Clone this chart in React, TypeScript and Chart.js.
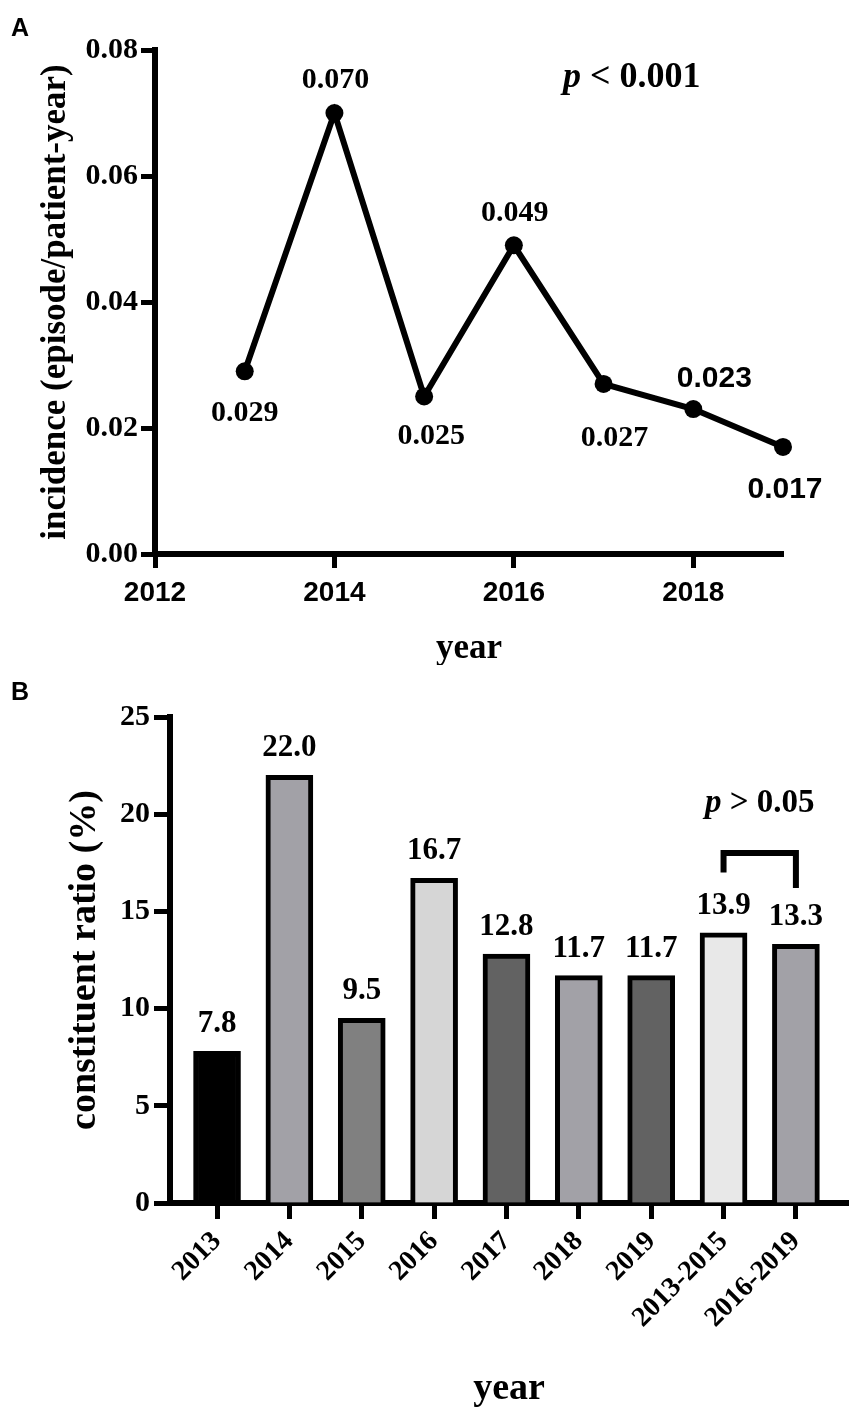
import { useEffect, useRef } from "react";
import { Chart, registerables } from "chart.js";

Chart.register(...registerables);

const SERIF = "'Liberation Serif', 'Times New Roman', serif";
const SANS = "'Liberation Sans', Arial, sans-serif";

// panel A: incidence per year
const incidenceYears = [2013, 2014, 2015, 2016, 2017, 2018, 2019];
const incidenceValues = [0.029, 0.07, 0.025, 0.049, 0.027, 0.023, 0.017];
const incidenceLabels = ["0.029", "0.070", "0.025", "0.049", "0.027", "0.023", "0.017"];
const yearTicks = [2012, 2014, 2016, 2018];

// panel B: constituent ratio
const ratioCategories = ["2013", "2014", "2015", "2016", "2017", "2018", "2019", "2013-2015", "2016-2019"];
const ratioValues = [7.8, 22.0, 9.5, 16.7, 12.8, 11.7, 11.7, 13.9, 13.3];
const ratioLabels = ["7.8", "22.0", "9.5", "16.7", "12.8", "11.7", "11.7", "13.9", "13.3"];
const ratioFills = ["#000000", "#a2a1a7", "#808080", "#d6d6d6", "#626262", "#a2a1a7", "#626262", "#e8e8e8", "#a2a1a7"];

// where each point label sits relative to its point (dx, dy, sans?)
const pointLabelPlacement: [number, number, boolean][] = [
  [0, 42, false],
  [1, -33, false],
  [7, 40, false],
  [1, -32, false],
  [11, 54, false],
  [21, -30, true],
  [2, 43, true],
];

const drawP = (ctx: CanvasRenderingContext2D, x: number, y: number, rest: string, size: number) => {
  ctx.textAlign = "left";
  ctx.textBaseline = "middle";
  ctx.font = `italic bold ${size}px ${SERIF}`;
  ctx.fillText("p", x, y);
  const w = ctx.measureText("p").width;
  ctx.font = `bold ${size}px ${SERIF}`;
  ctx.fillText(rest, x + w, y);
};

const textA = {
  id: "textA",
  afterDraw(chart: any) {
    const { ctx, chartArea } = chart;
    ctx.save();
    ctx.fillStyle = "#000";

    ctx.font = `bold 25px ${SANS}`;
    ctx.textAlign = "left";
    ctx.textBaseline = "middle";
    ctx.fillText("A", 11, 29);

    ctx.font = `bold 35px ${SERIF}`;
    ctx.textAlign = "center";
    ctx.textBaseline = "alphabetic";
    ctx.fillText("year", (chartArea.left + chartArea.right) / 2, chartArea.bottom + 104);

    ctx.save();
    ctx.translate(56, (chartArea.top + chartArea.bottom) / 2);
    ctx.rotate(-Math.PI / 2);
    ctx.textBaseline = "middle";
    ctx.fillText("incidence (episode/patient-year)", 0, 0);
    ctx.restore();

    drawP(ctx, 563, 78, " < 0.001", 36);

    const meta = chart.getDatasetMeta(0);
    meta.data.forEach((pt: any, i: number) => {
      const [dx, dy, sans] = pointLabelPlacement[i];
      ctx.font = sans ? `bold 30px ${SANS}` : `bold 30px ${SERIF}`;
      ctx.textAlign = "center";
      ctx.textBaseline = "middle";
      ctx.fillText(incidenceLabels[i], pt.x + dx, pt.y + dy);
    });
    ctx.restore();
  },
};

const textB = {
  id: "textB",
  afterDraw(chart: any) {
    const { ctx, chartArea, scales } = chart;
    ctx.save();
    ctx.fillStyle = "#000";
    ctx.strokeStyle = "#000";

    ctx.font = `bold 25px ${SANS}`;
    ctx.textAlign = "left";
    ctx.textBaseline = "middle";
    ctx.fillText("B", 11, 33);

    ctx.font = `bold 38px ${SERIF}`;
    ctx.textAlign = "center";
    ctx.textBaseline = "alphabetic";
    ctx.fillText("year", (chartArea.left + chartArea.right) / 2, chartArea.bottom + 196);

    ctx.save();
    ctx.translate(85, (chartArea.top + chartArea.bottom) / 2);
    ctx.rotate(-Math.PI / 2);
    ctx.textBaseline = "middle";
    ctx.fillText("constituent ratio (%)", 0, 0);
    ctx.restore();

    const meta = chart.getDatasetMeta(0);
    ctx.font = `bold 31px ${SERIF}`;
    ctx.textAlign = "center";
    ctx.textBaseline = "middle";
    meta.data.forEach((bar: any, i: number) => {
      ctx.fillText(ratioLabels[i], bar.x, bar.y - 27);
    });

    // comparison bracket between the two pooled bars
    const x1 = scales.x.getPixelForValue(7);
    const x2 = scales.x.getPixelForValue(8);
    const yTop = scales.y.getPixelForValue(18);
    ctx.lineWidth = 6;
    ctx.lineCap = "butt";
    ctx.lineJoin = "miter";
    ctx.beginPath();
    ctx.moveTo(x1, scales.y.getPixelForValue(17));
    ctx.lineTo(x1, yTop);
    ctx.lineTo(x2, yTop);
    ctx.lineTo(x2, scales.y.getPixelForValue(16.2));
    ctx.stroke();

    drawP(ctx, 705, 143, " > 0.05", 33);
    ctx.restore();
  },
};

const axisStyle = (tickLength: number) => ({
  border: { display: true, width: 6, color: "#000" },
  grid: { offset: false, drawOnChartArea: false, drawTicks: true, tickLength, tickWidth: 5, tickColor: "#000" },
});

const IncidenceChart = () => {
  const ref = useRef<HTMLCanvasElement | null>(null);

  useEffect(() => {
    if (!ref.current) return;
    const chart = new Chart(ref.current, {
      type: "line",
      data: {
        datasets: [
          {
            data: incidenceYears.map((y, i) => ({ x: y, y: incidenceValues[i] })),
            borderColor: "#000",
            backgroundColor: "#000",
            borderWidth: 6,
            pointRadius: 9,
            pointBorderWidth: 0,
            tension: 0,
            clip: false,
          },
        ],
      },
      options: {
        animation: false,
        responsive: false,
        events: [],
        layout: { padding: { left: 0, right: 68, top: 50, bottom: 0 } },
        plugins: { legend: { display: false }, tooltip: { enabled: false } },
        scales: {
          x: {
            type: "linear",
            min: 2012,
            max: 2019,
            bounds: "data",
            afterBuildTicks: (s: any) => {
              s.ticks = yearTicks.map((value) => ({ value }));
            },
            afterFit: (s: any) => {
              s.height = 111;
            },
            ...axisStyle(14),
            ticks: {
              padding: 8,
              color: "#000",
              font: { family: SANS, size: 28, weight: "bold" },
              callback: (v: any) => String(v),
            },
          },
          y: {
            min: 0,
            max: 0.08,
            afterFit: (s: any) => {
              s.width = 155;
            },
            ...axisStyle(14),
            ticks: {
              stepSize: 0.02,
              padding: 3,
              color: "#000",
              font: { family: SERIF, size: 30, weight: "bold" },
              callback: (v: any) => Number(v).toFixed(2),
            },
          },
        },
      } as any,
      plugins: [textA],
    });
    return () => chart.destroy();
  }, []);

  return (
    <canvas ref={ref} width={851} height={665} style={{ position: "absolute", left: 0, top: 0, display: "block" }} />
  );
};

const RatioChart = () => {
  const ref = useRef<HTMLCanvasElement | null>(null);

  useEffect(() => {
    if (!ref.current) return;
    const chart = new Chart(ref.current, {
      type: "bar",
      data: {
        datasets: [
          {
            data: ratioValues.map((v, i) => ({ x: i, y: v })),
            backgroundColor: ratioFills,
            borderColor: "#000",
            borderWidth: 5,
            borderSkipped: "start",
            barThickness: 47,
          },
        ],
      },
      options: {
        animation: false,
        responsive: false,
        events: [],
        layout: { padding: { left: 0, right: 3, top: 57, bottom: 0 }, autoPadding: false },
        plugins: { legend: { display: false }, tooltip: { enabled: false } },
        scales: {
          x: {
            type: "linear",
            min: -0.65,
            max: 8.72,
            bounds: "data",
            offset: false,
            afterBuildTicks: (s: any) => {
              s.ticks = ratioCategories.map((_, i) => ({ value: i }));
            },
            afterFit: (s: any) => {
              s.height = 212;
            },
            ...axisStyle(16),
            ticks: {
              autoSkip: false,
              minRotation: 45,
              maxRotation: 45,
              padding: 6,
              color: "#000",
              font: { family: SERIF, size: 28, weight: "bold" },
              callback: (v: any) => ratioCategories[Math.round(v)] ?? "",
            },
          },
          y: {
            min: 0,
            max: 25,
            afterFit: (s: any) => {
              s.width = 170;
            },
            ...axisStyle(16),
            ticks: {
              stepSize: 5,
              padding: 4,
              color: "#000",
              font: { family: SERIF, size: 30, weight: "bold" },
            },
          },
        },
      } as any,
      plugins: [textB],
    });
    return () => chart.destroy();
  }, []);

  return (
    <canvas ref={ref} width={851} height={755} style={{ position: "absolute", left: 0, top: 660, display: "block" }} />
  );
};

export default function App() {
  return (
    <div style={{ position: "absolute", left: 0, top: 0, width: 851, height: 1415, background: "#fff" }}>
      <IncidenceChart />
      <RatioChart />
    </div>
  );
}
